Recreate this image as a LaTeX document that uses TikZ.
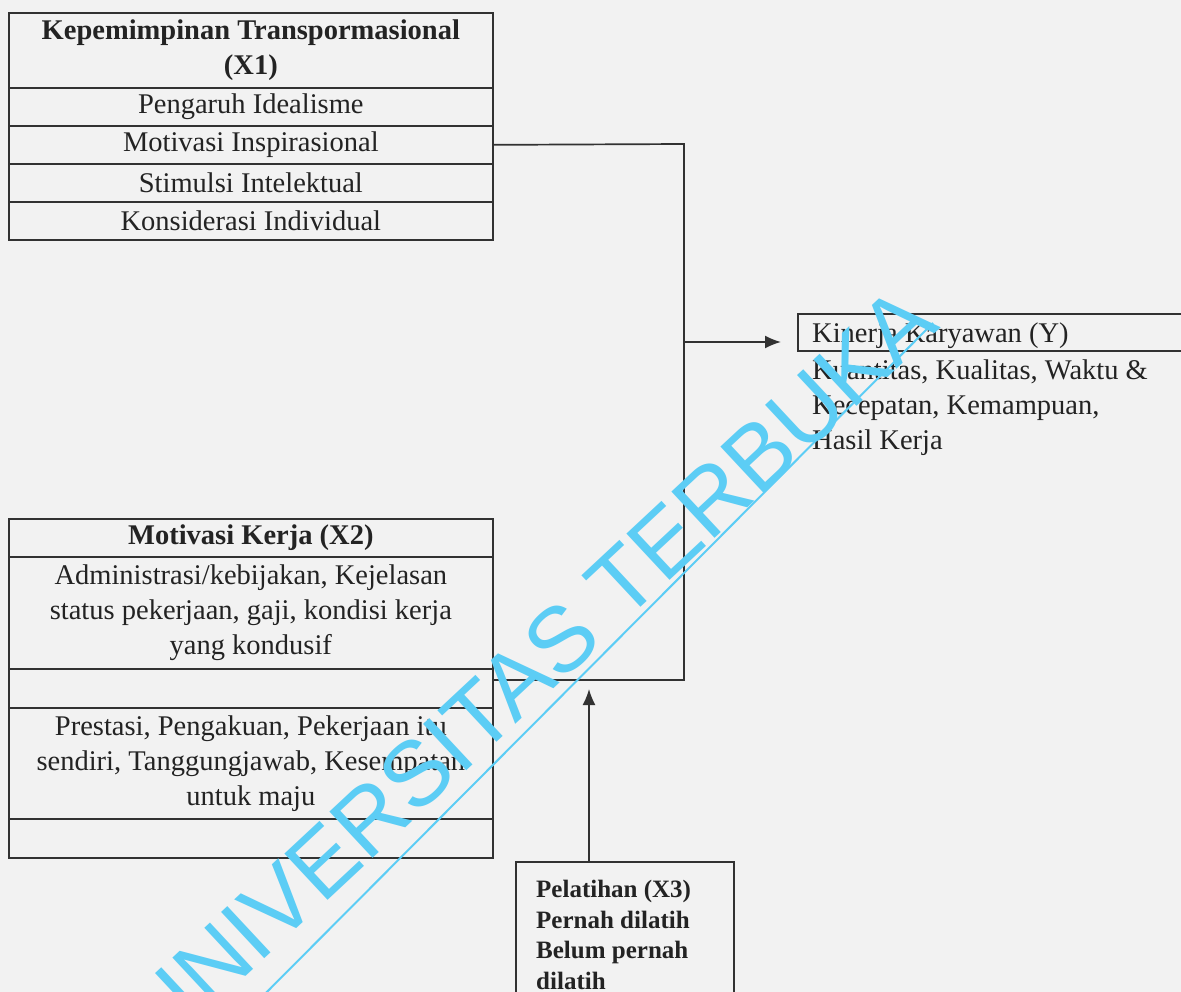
\documentclass[tikz,border=0pt]{standalone}
\usepackage{fontspec}
\setmainfont{Liberation Serif}
\newfontfamily\wmfamily{Liberation Sans}
\usetikzlibrary{arrows.meta}
\definecolor{bg}{RGB}{242,242,242}
\definecolor{ink}{RGB}{35,35,35}
\definecolor{rulec}{RGB}{50,50,50}
\definecolor{wmc}{RGB}{92,205,245}
\newcommand{\mainsize}{\fontsize{28.5}{35}\selectfont}
\newcommand{\xthreesize}{\fontsize{25}{30.5}\selectfont}
\begin{document}
\begin{tikzpicture}[x=1pt,y=-1pt,
  cell/.style={draw=rulec, line width=1.7pt, inner sep=0pt, minimum width=484pt,
               anchor=north west, font=\mainsize, align=center, text=ink},
  conn/.style={draw=rulec, line width=1.7pt},
  arr/.style={conn, -{Latex[length=16pt,width=13pt]}},
  txt/.style={inner sep=0pt, font=\mainsize, text=ink, align=left},
  wmtext/.style={inner sep=0pt, font=\wmfamily\fontsize{92}{96}\selectfont, text=wmc},
  wmline/.style={draw=wmc, line width=2pt}]
\path[use as bounding box, fill=bg] (0,0) rectangle (1181,992);
\clip (0,0) rectangle (1181,992);

% X1
\node[cell, minimum height=75pt] (x1h) at (8,12) {\bfseries Kepemimpinan Transpormasional\\\bfseries (X1)};
\node[cell, minimum height=38pt] (x1a) at (8,87) {Pengaruh Idealisme};
\node[cell, minimum height=38pt] (x1b) at (8,125) {Motivasi Inspirasional};
\node[cell, minimum height=38pt] (x1c) at (8,163) {Stimulsi Intelektual};
\node[cell, minimum height=38pt] (x1d) at (8,201) {Konsiderasi Individual};

% X2
\node[cell, minimum height=38pt] (x2h) at (8,518) {\bfseries Motivasi Kerja (X2)};
\node[cell, minimum height=112pt] (x2a) at (8,556) {Administrasi/kebijakan, Kejelasan\\status pekerjaan, gaji, kondisi kerja\\yang kondusif};
\node[cell, minimum height=39pt] (x2b) at (8,668) {};
\node[cell, minimum height=111pt] (x2c) at (8,707) {Prestasi, Pengakuan, Pekerjaan itu\\sendiri, Tanggungjawab, Kesempatan\\untuk maju};
\node[cell, minimum height=39pt] (x2d) at (8,818) {};

% Y
\node[draw=rulec, line width=1.7pt, inner sep=0pt, anchor=north west,
      minimum width=420pt, minimum height=37pt] (ybox) at (797,313) {};
\node[txt, anchor=base west] (ytitle) at (812,342) {Kinerja Karyawan (Y)};
\node[txt, anchor=north west] (ydesc) at (812,359.5) {Kuantitas, Kualitas, Waktu \&\\Kecepatan, Kemampuan,\\Hasil Kerja};

% X3
\node[draw=rulec, line width=1.7pt, inner sep=0pt, anchor=north west,
      minimum width=218pt, minimum height=200pt] (x3) at (515,861) {};
\node[inner sep=0pt, anchor=north west, align=left, text=ink,
      font=\xthreesize\bfseries] (x3t) at (536,880) {Pelatihan (X3)\\Pernah dilatih\\Belum pernah\\dilatih};

% connectors
\coordinate (jt) at (684,144);
\coordinate (jm) at (684,342);
\coordinate (jb) at (684,680);
\coordinate (ytip) at (781,342);
\coordinate (xa) at (589,689);
\draw[conn] (x1b.east) -- (jt) -- (jb) -- (x2b.east |- jb);
\draw[arr] (jm) -- (ytip);
\draw[arr] (xa |- x3.north) -- (xa);

% watermark
\node[wmtext, rotate=43] (wm) at (530,668) {UNIVERSITAS TERBUKA};
\coordinate (wl1) at (230,1029);
\coordinate (wl2) at (933,323);
\draw[wmline] (wl1) -- (wl2);
\end{tikzpicture}
\end{document}
